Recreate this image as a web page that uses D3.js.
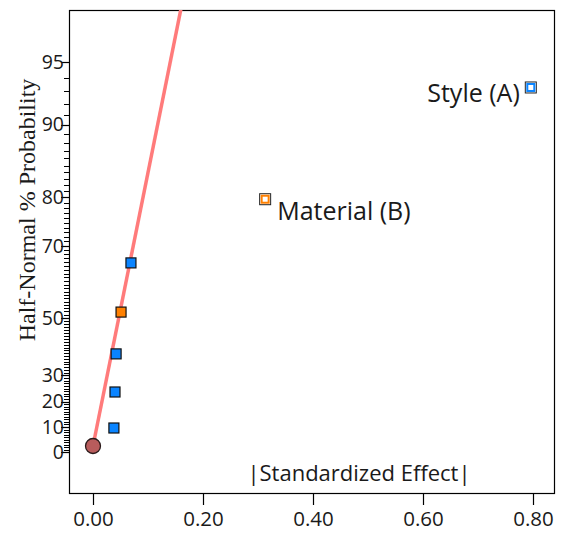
<!DOCTYPE html>
<html>
<head>
<meta charset="utf-8">
<script src="https://cdn.jsdelivr.net/npm/d3@7"></script>
<style>
  body { margin: 0; background: #fff; }
  svg text { font-family: "Open Sans", "Noto Sans", sans-serif; }
</style>
</head>
<body>
<div id="chart"></div>
<script>
  // effects: |standardized effect| and half-normal % probability
  const effectNames = ['', '', '', '', '', 'Material (B)', 'Style (A)']
  const effectSizes = [0.038, 0.040, 0.042, 0.051, 0.069, 0.313, 0.796]
  const effectPcts = [9.6, 23.7, 37.8, 51.8, 65.8, 79.6, 93.3]
  const effectColors = ['#0a84ff', '#0a84ff', '#0a84ff', '#ff8000', '#0a84ff', '#ff8000', '#0a84ff']
  const labelled = [false, false, false, false, false, true, true]

  // error estimate marker and the fitted line through it
  const errorPoint = { effect: 0.0, pct: 2.4 }
  const lineEffects = [0.0, 0.17]
  const linePcts = [2.4, 98.2]

  const yTickValues = [0, 10, 20, 30, 50, 70, 80, 90, 95]
  const xTickValues = [0, 0.2, 0.4, 0.6, 0.8]

  const W = 561, H = 535
  const plot = { left: 69, top: 10, right: 555, bottom: 493 }

  // inverse standard normal cdf (Acklam)
  function probit(p) {
    const a = [-39.69683028665376, 220.9460984245205, -275.9285104469687, 138.3577518672690, -30.66479806614716, 2.506628277459239]
    const b = [-54.47609879822406, 161.5858368580409, -155.6989798598866, 66.80131188771972, -13.28068155288572]
    const c = [-0.007784894002430293, -0.3223964580411365, -2.400758277161838, -2.549732539343734, 4.374664141464968, 2.938163982698783]
    const d = [0.007784695709041462, 0.3224671290700398, 2.445134137142996, 3.754408661907416]
    const pl = 0.02425
    let q, r
    if (p < pl) {
      q = Math.sqrt(-2 * Math.log(p))
      return (((((c[0]*q+c[1])*q+c[2])*q+c[3])*q+c[4])*q+c[5]) / ((((d[0]*q+d[1])*q+d[2])*q+d[3])*q+1)
    } else if (p <= 1 - pl) {
      q = p - 0.5; r = q * q
      return (((((a[0]*r+a[1])*r+a[2])*r+a[3])*r+a[4])*r+a[5])*q / (((((b[0]*r+b[1])*r+b[2])*r+b[3])*r+b[4])*r+1)
    }
    q = Math.sqrt(-2 * Math.log(1 - p))
    return -(((((c[0]*q+c[1])*q+c[2])*q+c[3])*q+c[4])*q+c[5]) / ((((d[0]*q+d[1])*q+d[2])*q+d[3])*q+1)
  }
  // half-normal quantile of a percentage
  const hn = pct => pct <= 0 ? 0 : probit((1 + pct / 100) / 2)

  const xScale = d3.scaleLinear().domain([-0.04364, 0.84]).range([plot.left, plot.right])
  const zScale = d3.scaleLinear().domain([-0.206, 2.221]).range([plot.bottom, plot.top])
  const yScale = pct => zScale(hn(pct))

  const svg = d3.select('#chart').append('svg')
    .attr('width', W).attr('height', H)

  svg.append('defs').append('clipPath').attr('id', 'clip')
    .append('rect')
    .attr('x', plot.left).attr('y', plot.top)
    .attr('width', plot.right - plot.left).attr('height', plot.bottom - plot.top)

  // frame
  svg.append('rect')
    .attr('x', plot.left + 0.5).attr('y', plot.top + 0.5)
    .attr('width', plot.right - plot.left - 1).attr('height', plot.bottom - plot.top)
    .attr('fill', 'none').attr('stroke', '#000').attr('stroke-width', 1.2)

  // x axis
  const xAxis = svg.append('g')
    .attr('transform', `translate(0,${plot.bottom})`)
    .call(d3.axisBottom(xScale).tickValues(xTickValues).tickFormat(d3.format('.2f')).tickSize(12).tickPadding(6))
  xAxis.select('.domain').remove()
  xAxis.selectAll('line').attr('stroke', '#000').attr('stroke-width', 1.2)
  xAxis.selectAll('text').style('font-family', '"Open Sans", sans-serif').style('font-size', '20.5px').attr('fill', '#1a1a1a')

  // y axis minor ticks every 1%
  const minor = d3.range(1, 96)
  svg.append('g').selectAll('line').data(minor).join('line')
    .attr('x1', plot.left - 5).attr('x2', plot.left)
    .attr('y1', d => Math.round(yScale(d)) + 0.5).attr('y2', d => Math.round(yScale(d)) + 0.5)
    .attr('stroke', '#000').attr('stroke-width', 1)

  const yAxis = svg.append('g').attr('transform', `translate(${plot.left},0)`)
  yAxis.selectAll('line').data(yTickValues).join('line')
    .attr('x1', -8).attr('x2', 0)
    .attr('y1', d => Math.round(yScale(d)) + 0.5).attr('y2', d => Math.round(yScale(d)) + 0.5)
    .attr('stroke', '#000').attr('stroke-width', 1.2)
  yAxis.selectAll('text').data(yTickValues).join('text')
    .attr('x', -5).attr('y', d => yScale(d))
    .attr('dy', '0.35em').attr('text-anchor', 'end')
    .style('font-size', '19.5px').attr('fill', '#1a1a1a')
    .text(d => d)

  // y label (serif)
  svg.append('text')
    .attr('transform', 'translate(35,210) rotate(-90)')
    .attr('text-anchor', 'middle')
    .style('font-family', '"Liberation Serif", "DejaVu Serif", serif')
    .style('font-size', '24px').attr('fill', '#1a1a1a')
    .text('Half-Normal % Probability')

  // x label inside plot
  svg.append('text')
    .attr('x', 359).attr('y', 481)
    .attr('text-anchor', 'middle')
    .style('font-size', '22px').attr('fill', '#1a1a1a')
    .text('|Standardized Effect|')

  const g = svg.append('g').attr('clip-path', 'url(#clip)')

  // fitted line
  const line = d3.line().x(d => xScale(d[0])).y(d => yScale(d[1]))
  g.append('path')
    .datum(lineEffects.map((e, i) => [e, linePcts[i]]))
    .attr('d', line)
    .attr('fill', 'none').attr('stroke', '#ff7b7b').attr('stroke-width', 3.5)

  // error point
  g.append('circle')
    .attr('cx', xScale(errorPoint.effect)).attr('cy', yScale(errorPoint.pct))
    .attr('r', 7.5)
    .attr('fill', '#b85c5c').attr('stroke', '#2a1a1a').attr('stroke-width', 1.3)

  const pts = effectSizes.map((e, i) => ({ e, p: effectPcts[i], c: effectColors[i], lab: labelled[i], name: effectNames[i] }))

  // small filled squares
  g.selectAll('rect.pt').data(pts.filter(d => !d.lab)).join('rect')
    .attr('class', 'pt')
    .attr('x', d => xScale(d.e) - 5).attr('y', d => yScale(d.p) - 5)
    .attr('width', 10).attr('height', 10)
    .attr('fill', d => d.c).attr('stroke', '#111').attr('stroke-width', 1.2)

  // highlighted squares: dark outer, coloured ring, white core
  const big = g.selectAll('g.big').data(pts.filter(d => d.lab)).join('g')
    .attr('class', 'big')
    .attr('transform', d => `translate(${xScale(d.e)},${yScale(d.p)})`)
  big.append('rect')
    .attr('x', -5.5).attr('y', -5.5).attr('width', 11).attr('height', 11)
    .attr('fill', '#fff').attr('stroke', '#222').attr('stroke-width', 1)
  big.append('rect')
    .attr('x', -3.5).attr('y', -3.5).attr('width', 7).attr('height', 7)
    .attr('fill', '#fff').attr('stroke', d => d.c).attr('stroke-width', 2)

  // annotations, placed beside their points
  const matPt = pts[5], stylePt = pts[6]
  svg.append('text').attr('x', xScale(matPt.e) + 12).attr('y', yScale(matPt.p) + 21)
    .style('font-size', '25px').attr('fill', '#1a1a1a').text(matPt.name)
  svg.append('text').attr('x', xScale(stylePt.e) - 11).attr('y', yScale(stylePt.p) + 15).attr('text-anchor', 'end')
    .style('font-size', '25px').attr('fill', '#1a1a1a').text(stylePt.name)
</script>
</body>
</html>
